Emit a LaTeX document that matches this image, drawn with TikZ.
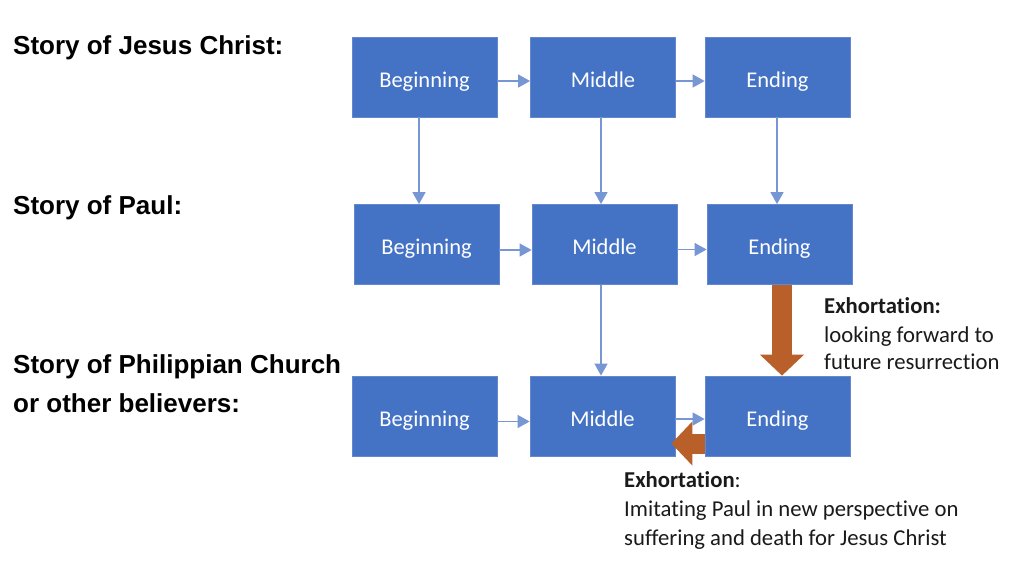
\documentclass[tikz,border=0pt]{standalone}
\usepackage{fontspec}
\setmainfont{Carlito}[Ligatures={NoCommon}]
\newfontfamily\arialfont{Liberation Sans}
\usetikzlibrary{arrows.meta}
\definecolor{boxblue}{HTML}{4472C4}
\definecolor{boxedge}{RGB}{100,135,205}
\definecolor{linkblue}{RGB}{118,150,212}
\definecolor{exorange}{HTML}{B9602A}
\definecolor{txt}{HTML}{1A1A1A}
\begin{document}
\begin{tikzpicture}[x=1pt,y=-1pt,
  stagebox/.style={rectangle, draw=boxedge, line width=0.8pt, fill=boxblue,
    minimum width=145pt, minimum height=80pt, text=white,
    font=\fontsize{22.5}{27}\selectfont, text height=22pt, text depth=2pt, inner sep=0pt},
  link/.style={draw=linkblue, line width=1.3pt, -{Triangle[length=12pt,width=13pt]}},
  exarrow/.style={draw=exorange, line width=20pt, -{Triangle[length=21pt,width=43pt]}},
  storylabel/.style={font=\arialfont\bfseries\fontsize{26}{31}\selectfont, text=black, inner sep=0pt, anchor=base west},
  note/.style={font=\fontsize{22.7}{27}\selectfont, text=txt, inner sep=0pt, anchor=base west}]
\fill[white] (0,0) rectangle (1014,560);
\useasboundingbox (0,0) rectangle (1014,560);

% story labels
\node[storylabel] (l1) at (13,54) {Story of Jesus Christ:};
\node[storylabel] (l2) at (13,214) {Story of Paul:};
\node[storylabel] (l3) at (13,373) {Story of Philippian Church};
\node[storylabel] (l4) at (13,412) {or other believers:};

% boxes
\node[stagebox] (b1) at (424.5,77) {Beginning};
\node[stagebox] (m1) at (603,77) {Middle};
\node[stagebox] (e1) at (777.5,77) {Ending};
\node[stagebox] (b2) at (426.5,244.5) {Beginning};
\node[stagebox] (m2) at (604.5,244.5) {Middle};
\node[stagebox] (e2) at (779.5,244.5) {Ending};
\node[stagebox] (b3) at (424.5,416) {Beginning};
\node[stagebox] (m3) at (602.5,416) {Middle};
\node[stagebox] (e3) at (777.5,416) {Ending};

% horizontal links
\draw[link] ([yshift=-4pt]b1.east) -- ([yshift=-4pt]b1.east -| m1.west);
\draw[link] ([yshift=-4pt]m1.east) -- ([yshift=-4pt]m1.east -| e1.west);
\draw[link] ([yshift=-5.5pt]b2.east) -- ([yshift=-5.5pt]b2.east -| m2.west);
\draw[link] ([yshift=-5pt]m2.east) -- ([yshift=-5pt]m2.east -| e2.west);
\draw[link] ([yshift=-5.5pt]b3.east) -- ([yshift=-5.5pt]b3.east -| m3.west);
\draw[link] ([yshift=-3pt]m3.east) -- ([yshift=-3pt]m3.east -| e3.west);

% vertical links
\draw[link] ([xshift=-5.5pt]b1.south) -- ([xshift=-5.5pt]b1.south |- b2.north);
\draw[link] ([xshift=-2pt]m1.south) -- ([xshift=-2pt]m1.south |- m2.north);
\draw[link] ([xshift=-0.5pt]e1.south) -- ([xshift=-0.5pt]e1.south |- e2.north);
\draw[link] ([xshift=-3.5pt]m2.south) -- ([xshift=-3.5pt]m2.south |- m3.north);

% exhortation arrows
\draw[exarrow] ([xshift=2.5pt]e2.south) -- ([xshift=2.5pt]e2.south |- e3.north);
\draw[exarrow] ([yshift=-27.5pt]e3.west) -- ([xshift=-4pt,yshift=-27.5pt]m3.east);

% notes
\node[note] (n1) at (824,313) {\textbf{Exhortation:}};
\node[note] (n2) at (824,342) {looking forward to};
\node[note] (n3) at (824,369) {future resurrection};
\node[note] (n4) at (624,487) {\textbf{Exhortation}:};
\node[note] (n5) at (624,516) {Imitating Paul in new perspective on};
\node[note] (n6) at (624,545) {suffering and death for Jesus Christ};
\end{tikzpicture}
\end{document}
